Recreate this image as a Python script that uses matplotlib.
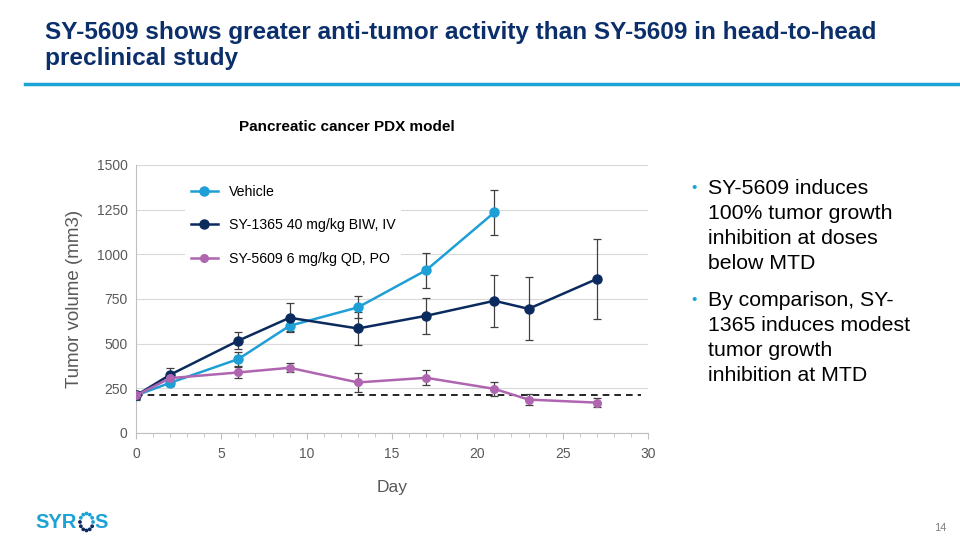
import matplotlib
matplotlib.use("Agg")
import matplotlib.pyplot as plt
import numpy as np

plt.rcParams['font.family'] = ['Liberation Sans', 'DejaVu Sans']

# ---- data ----
days_vehicle = [0, 2, 6, 9, 13, 17, 21]
vehicle = [210, 281, 414, 600, 703, 911, 1235]
vehicle_err = [20, 20, 40, 30, 62, 98, 124]

days_1365 = [0, 2, 6, 9, 13, 17, 21, 23, 27]
sy1365 = [210, 326, 517, 645, 585, 656, 740, 695, 862]
sy1365_err = [25, 40, 47, 82, 94, 100, 145, 177, 226]

days_5609 = [0, 2, 6, 9, 13, 17, 21, 23, 27]
sy5609 = [210, 307, 339, 365, 283, 309, 247, 187, 170]
sy5609_err = [20, 25, 30, 25, 52, 43, 40, 33, 25]

baseline = 214
labels = ["Vehicle", "SY-1365 40 mg/kg BIW, IV", "SY-5609 6 mg/kg QD, PO"]
colors = ["#1E9FD6", "#0B2A5E", "#B065B0"]
yticks = [0, 250, 500, 750, 1000, 1250, 1500]
xticks = [0, 5, 10, 15, 20, 25, 30]

fig = plt.figure(figsize=(9.6, 5.4), dpi=100)
fig.patch.set_facecolor("white")

# title
navy = "#0B2F6B"
fig.text(45/960, 1 - 32/540, "SY-5609 shows greater anti-tumor activity than SY-5609 in head-to-head",
         fontsize=17.6, fontweight="bold", color=navy, va="center", ha="left")
fig.text(45/960, 1 - 58/540, "preclinical study",
         fontsize=17.6, fontweight="bold", color=navy, va="center", ha="left")
fig.add_artist(plt.Line2D([25/960, 1.0], [1 - 84/540, 1 - 84/540], color="#1BA3D6", lw=2.5,
                          transform=fig.transFigure))

fig.text(347/960, 1 - 127/540, "Pancreatic cancer PDX model", fontsize=11, fontweight="bold",
         color="black", ha="center", va="center")

ax = fig.add_axes([136/960, 1 - 433/540, (648 - 136)/960, (433 - 165)/540])
ax.set_xlim(0, 30)
ax.set_ylim(0, 1500)
ax.set_yticks(yticks)
ax.set_xticks(xticks)
ax.set_xticks(np.arange(0, 31, 1), minor=True)
ax.grid(axis="y", color="#D9D9D9", lw=0.8)
ax.set_axisbelow(True)
for s in ["top", "right"]:
    ax.spines[s].set_visible(False)
for s in ["left", "bottom"]:
    ax.spines[s].set_color("#BFBFBF")
ax.tick_params(axis="both", labelsize=10, colors="#595959", length=0, pad=6)
ax.tick_params(axis="x", which="both", direction="out", length=3, color="#BFBFBF")
ax.tick_params(axis="x", which="major", length=4)

ax.plot([0, 29.6], [baseline, baseline], ls="--", color="black", lw=1.2, dashes=(4, 3), zorder=2)

series = [(days_vehicle, vehicle, vehicle_err), (days_1365, sy1365, sy1365_err),
          (days_5609, sy5609, sy5609_err)]
ms = [6.5, 6.5, 5.5]
handles = []
for (d, v, e), lab, c, m in zip(series, labels, colors, ms):
    ax.errorbar(d, v, yerr=e, fmt="none", ecolor="#404040", elinewidth=0.9, capsize=3,
                capthick=0.9, zorder=3)
    h, = ax.plot(d, v, "-o", color=c, lw=1.8, ms=m, label=lab, zorder=4)
    handles.append(h)

leg = ax.legend(handles=handles, loc="upper left", bbox_to_anchor=(0.082, 0.972), frameon=True,
                fontsize=10.2, labelspacing=1.35, handlelength=1.9, handletextpad=0.8,
                borderpad=0.4, framealpha=1)
leg.get_frame().set_edgecolor("white")
leg.get_frame().set_linewidth(0)
leg.set_zorder(5)

ax.set_ylabel("Tumor volume (mm3)", fontsize=13.5, color="#595959", labelpad=10)
ax.set_xlabel("Day", fontsize=12.5, color="#595959", labelpad=14)

# bullets
bullet_lines = [
    ["SY-5609 induces", "100% tumor growth", "inhibition at doses", "below MTD"],
    ["By comparison, SY-", "1365 induces modest", "tumor growth", "inhibition at MTD"],
]
y0 = [188, 300]
for lines, yb in zip(bullet_lines, y0):
    fig.text(691/960, 1 - yb/540, "•", fontsize=11, color="#1BA3D6", ha="left", va="center")
    for i, ln in enumerate(lines):
        fig.text(708/960, 1 - (yb + i*25.3)/540, ln, fontsize=15.3, color="black",
                 ha="left", va="center")

# logo
logo_c = "#1BA3D6"
fig.text(35/960, 1 - 522/540, "SYR", fontsize=14.5, fontweight="bold", color=logo_c,
         ha="left", va="center")
fig.text(94/960, 1 - 522/540, "S", fontsize=14.5, fontweight="bold", color=logo_c,
         ha="left", va="center")
lax = fig.add_axes([78/960, 1 - 533/540, 17/960, 22/540])
lax.set_xlim(-1.3, 1.3)
lax.set_ylim(-1.3, 1.3)
lax.axis("off")
ang = np.linspace(0, 2*np.pi, 12, endpoint=False)
lax.scatter(np.cos(ang), np.sin(ang), s=3, c=[logo_c if a < np.pi else "#0B2A5E" for a in ang])

fig.text(940/960, 1 - 528/540, "14", fontsize=8, color="#7F7F7F", ha="center", va="center")

fig.savefig("out.png", dpi=100)
